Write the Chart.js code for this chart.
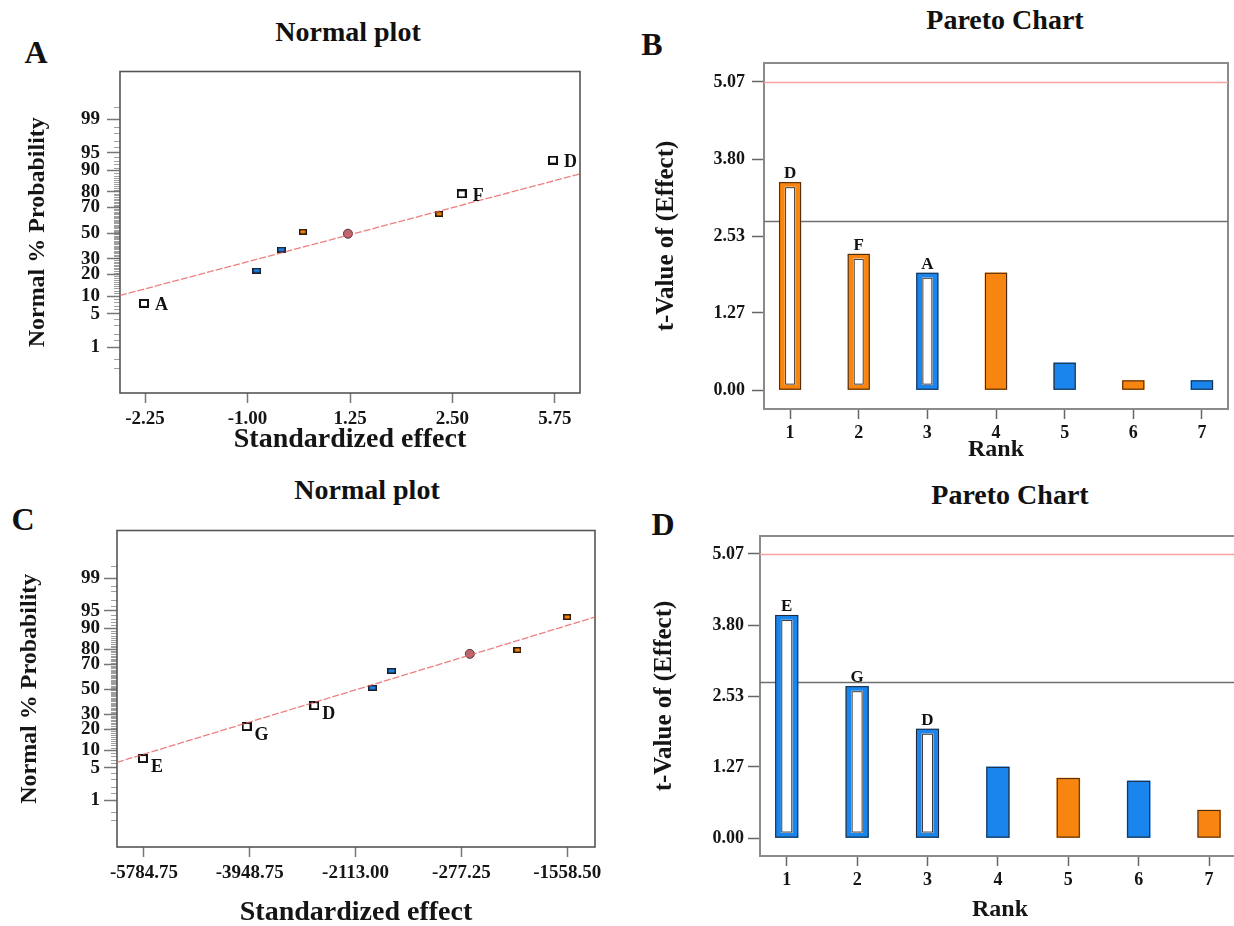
<!DOCTYPE html>
<html>
<head>
<meta charset="utf-8">
<script src="https://cdn.jsdelivr.net/npm/chart.js@4.4.0/dist/chart.umd.min.js"></script>
<style>
  body { margin: 0; background: #fff; width: 1234px; height: 926px; overflow: hidden; position: relative;
         font-family: "Liberation Serif", "DejaVu Serif", serif; }
  .lbl { position: absolute; font-weight: bold; color: #111; transform: translate(-50%, -50%);
         line-height: 1; white-space: nowrap; }
  canvas { position: absolute; }
</style>
</head>
<body>
<div class="lbl" style="left:36px;top:52px;font-size:32px">A</div>
<div class="lbl" style="left:348px;top:32px;font-size:28px">Normal plot</div>
<div class="lbl" style="left:652px;top:44px;font-size:32px">B</div>
<div class="lbl" style="left:1005px;top:20px;font-size:28px">Pareto Chart</div>
<div class="lbl" style="left:23px;top:519px;font-size:32px">C</div>
<div class="lbl" style="left:367px;top:490px;font-size:28px">Normal plot</div>
<div class="lbl" style="left:663px;top:524px;font-size:32px">D</div>
<div class="lbl" style="left:1010px;top:495px;font-size:28px">Pareto Chart</div>

<canvas id="chartA" width="576" height="391" style="left:10px;top:66px"></canvas>
<canvas id="chartB" width="581" height="405" style="left:652px;top:59px"></canvas>
<canvas id="chartC" width="594" height="405" style="left:7px;top:525px"></canvas>
<canvas id="chartD" width="597" height="392" style="left:648px;top:532px"></canvas>

<script>
// normal probability axis (percent)
const probTicks = [1, 5, 10, 20, 30, 50, 70, 80, 90, 95, 99];

// panel A - normal plot
const effTicksA = ['-2.25', '-1.00', '1.25', '2.50', '5.75'];
const effPosA = [-0.01, 1.09, 1.33, 1.54, 1.98, 2.87, 3.09, 3.98];   // in tick steps
const probA = [7.6, 22.3, 36.9, 51.2, 49.6, 65.4, 78.9, 93.2];
const kindA = ['term', 'neg', 'neg', 'pos', 'err', 'pos', 'term', 'term'];
const termA = ['A', '', '', '', '', '', 'F', 'D'];
const fitA = [10.2, 88.7];

// panel C - normal plot
const effTicksC = ['-5784.75', '-3948.75', '-2113.00', '-277.25', '-1558.50'];
const effPosC = [-0.01, 0.97, 1.61, 2.16, 2.34, 3.08, 3.53, 4.00];
const probC = [7.3, 21.7, 36.5, 51.2, 65.0, 77.1, 79.5, 93.5];
const kindC = ['term', 'term', 'term', 'neg', 'neg', 'err', 'pos', 'pos'];
const termC = ['E', 'G', 'D', '', '', '', '', ''];
const fitC = [6.25, 93.5];

// pareto charts
const ranks = [1, 2, 3, 4, 5, 6, 7];
const tTicks = [0, 1.27, 2.53, 3.80, 5.07];
const bonfLimit = 5.07;
const tLimit = 2.78;

const tValB = [3.42, 2.24, 1.93, 1.93, 0.45, 0.16, 0.16];
const signB = ['pos', 'pos', 'neg', 'pos', 'neg', 'pos', 'neg'];
const termB = ['D', 'F', 'A', '', '', '', ''];

const tValD = [3.98, 2.71, 1.95, 1.27, 1.07, 1.02, 0.50];
const signD = ['neg', 'neg', 'neg', 'neg', 'pos', 'neg', 'pos'];
const termD = ['E', 'G', 'D', '', '', '', ''];

const ORANGE = '#f8850f';
const BLUE = '#1a85ec';
const serif = '"Liberation Serif", "DejaVu Serif", serif';

Chart.defaults.font.family = serif;
Chart.defaults.font.weight = 'bold';
Chart.defaults.color = '#151515';

// inverse normal cdf (Acklam)
function probit(p) {
  const a = [-39.69683028665376, 220.9460984245205, -275.9285104469687, 138.3577518672690, -30.66479806614716, 2.506628277459239];
  const b = [-54.47609879822406, 161.5858368580409, -155.6989798598866, 66.80131188771972, -13.28068155288572];
  const c = [-0.007784894002430293, -0.3223964580411365, -2.400758277161838, -2.549732539343734, 4.374664141464968, 2.938163982698783];
  const d = [0.007784695709041462, 0.3224671290700398, 2.445134137142996, 3.754408661907416];
  const lo = 0.02425;
  if (p < lo) {
    const q = Math.sqrt(-2 * Math.log(p));
    return (((((c[0]*q+c[1])*q+c[2])*q+c[3])*q+c[4])*q+c[5]) / ((((d[0]*q+d[1])*q+d[2])*q+d[3])*q+1);
  }
  if (p > 1 - lo) {
    const q = Math.sqrt(-2 * Math.log(1 - p));
    return -(((((c[0]*q+c[1])*q+c[2])*q+c[3])*q+c[4])*q+c[5]) / ((((d[0]*q+d[1])*q+d[2])*q+d[3])*q+1);
  }
  const q = p - 0.5, r = q * q;
  return (((((a[0]*r+a[1])*r+a[2])*r+a[3])*r+a[4])*r+a[5])*q / (((((b[0]*r+b[1])*r+b[2])*r+b[3])*r+b[4])*r+1);
}

function marker(w, h, fill, line, lw) {
  const c = document.createElement('canvas');
  c.width = w; c.height = h;
  const g = c.getContext('2d');
  g.fillStyle = line; g.fillRect(0, 0, w, h);
  g.fillStyle = fill; g.fillRect(lw, lw, w - 2 * lw, h - 2 * lw);
  return c;
}
const markStyle = {
  term: marker(10, 9, '#fff', '#111', 2),
  neg: marker(9, 6, BLUE, '#1b1b2a', 1.5),
  pos: marker(8, 6, ORANGE, '#2a1a0a', 1.5),
  err: 'circle'
};

// minor ticks on the probability axis
const minorPct = [0.3, 0.5, 1.5, 98.5, 99.5];
for (let p = 2; p <= 98; p++) if (!probTicks.includes(p)) minorPct.push(p);

const frame = {
  id: 'frame',
  beforeDatasetsDraw(chart, args, o) {
    const {ctx, chartArea: a} = chart;
    ctx.save();
    ctx.strokeStyle = o.color;
    ctx.lineWidth = o.width;
    ctx.strokeRect(a.left, a.top, a.right - a.left, a.bottom - a.top);
    ctx.restore();
  }
};

const minorTicks = {
  id: 'minorTicks',
  afterDraw(chart, args, o) {
    const {ctx, chartArea: a, scales: {y}} = chart;
    ctx.save();
    ctx.strokeStyle = 'rgba(80,80,80,0.55)';
    ctx.lineWidth = 1;
    minorPct.forEach(p => {
      const py = Math.round(y.getPixelForValue(probit(p / 100))) + 0.5;
      ctx.beginPath(); ctx.moveTo(a.left - 6, py); ctx.lineTo(a.left, py); ctx.stroke();
    });
    ctx.restore();
  }
};

const pointLabels = {
  id: 'pointLabels',
  afterDatasetsDraw(chart, args, o) {
    const ctx = chart.ctx;
    const meta = chart.getDatasetMeta(1);
    ctx.save();
    ctx.font = 'bold 18px ' + serif;
    ctx.fillStyle = '#111';
    ctx.textAlign = 'left';
    ctx.textBaseline = 'middle';
    meta.data.forEach((pt, i) => {
      if (o.text[i]) ctx.fillText(o.text[i], pt.x + o.dx, pt.y + o.dy);
    });
    ctx.restore();
  }
};

const hLines = {
  id: 'hLines',
  beforeDatasetsDraw(chart, args, o) {
    const {ctx, chartArea: a, scales: {y}} = chart;
    ctx.save();
    o.lines.forEach(l => {
      const py = Math.round(y.getPixelForValue(l.value)) + 0.5;
      ctx.strokeStyle = l.color;
      ctx.lineWidth = l.width;
      ctx.beginPath(); ctx.moveTo(a.left, py); ctx.lineTo(a.right, py); ctx.stroke();
    });
    ctx.restore();
  }
};

const barDecor = {
  id: 'barDecor',
  afterDatasetsDraw(chart, args, o) {
    const ctx = chart.ctx;
    const meta = chart.getDatasetMeta(0);
    ctx.save();
    ctx.strokeStyle = 'rgba(35,25,20,0.85)';
    ctx.lineWidth = 1;
    ctx.font = 'bold 17px ' + serif;
    ctx.fillStyle = '#111';
    ctx.textAlign = 'center';
    ctx.textBaseline = 'alphabetic';
    meta.data.forEach((bar, i) => {
      const {x, y, base, width} = bar.getProps(['x', 'y', 'base', 'width'], true);
      const l = x - width / 2, t = Math.min(y, base), h = Math.abs(base - y);
      ctx.strokeRect(l + 0.5, t + 0.5, width - 1, h - 1);
      if (o.text[i]) {
        ctx.strokeRect(l + 6.5, t + 5.5, width - 13, h - 11);
        ctx.fillText(o.text[i], x, t - 4);
      }
    });
    ctx.restore();
  }
};

function normalPlot(id, g) {
  return new Chart(document.getElementById(id), {
    type: 'scatter',
    data: {
      datasets: [
        {
          type: 'line',
          data: [{x: g.xMin, y: probit(g.fit[0] / 100)}, {x: g.xMax, y: probit(g.fit[1] / 100)}],
          borderColor: 'rgba(232,96,96,0.8)', borderWidth: 1.3, borderDash: [7, 2],
          pointRadius: 0, fill: false
        },
        {
          data: g.pos.map((x, i) => ({x: x, y: probit(g.prob[i] / 100)})),
          pointStyle: g.kind.map(k => markStyle[k]),
          pointRadius: 4.5, backgroundColor: '#b9666f', borderColor: '#5a3035', borderWidth: 1
        }
      ]
    },
    options: {
      responsive: false,
      animation: false,
      events: [],
      layout: {padding: {top: 4, right: 6, left: 0, bottom: 0}},
      plugins: {
        legend: {display: false},
        tooltip: {enabled: false},
        frame: {color: '#555', width: 1.6},
        pointLabels: {text: g.terms, dx: g.dx, dy: g.dy}
      },
      scales: {
        x: {
          type: 'linear', min: g.xMin, max: g.xMax,
          afterBuildTicks: s => { s.ticks = g.ticks.map((t, i) => ({value: i})); },
          afterFit: s => { s.height = g.xh; s.paddingLeft = 0; s.paddingRight = 0; },
          ticks: {callback: (v, i) => g.ticks[i], font: {size: 19}, padding: 5, maxRotation: 0, autoSkip: false},
          grid: {drawOnChartArea: false, tickLength: 10, tickColor: '#777', tickWidth: 1.5},
          border: {display: false},
          title: {display: true, text: 'Standardized effect', font: {size: 28}, padding: 0}
        },
        y: {
          type: 'linear', min: g.yMin, max: g.yMax,
          afterBuildTicks: s => { s.ticks = probTicks.map(p => ({value: probit(p / 100)})); },
          afterFit: s => { s.width = g.yw; s.paddingTop = 0; s.paddingBottom = 0; },
          ticks: {callback: (v, i) => String(probTicks[i]), font: {size: 19}, padding: g.ypad, autoSkip: false},
          grid: {drawOnChartArea: false, tickLength: 13, tickColor: '#777', tickWidth: 1.5},
          border: {display: false},
          title: {display: true, text: 'Normal % Probability', font: {size: 24}, padding: {top: g.ytp, bottom: 0}}
        }
      }
    },
    plugins: [frame, minorTicks, pointLabels]
  });
}

function paretoPlot(id, g) {
  const col = g.sign.map(s => s === 'pos' ? ORANGE : BLUE);
  return new Chart(document.getElementById(id), {
    type: 'bar',
    data: {
      datasets: [{
        data: g.vals.map((v, i) => ({x: ranks[i], y: v})),
        backgroundColor: g.vals.map((v, i) => g.terms[i] ? '#fff' : col[i]),
        borderColor: col,
        borderWidth: c => g.terms[c.dataIndex] ? {top: 5, bottom: 5, left: 6, right: 6} : 0,
        borderSkipped: false,
        barThickness: g.bar
      }]
    },
    options: {
      responsive: false,
      animation: false,
      events: [],
      layout: {padding: {top: 4, right: g.padR, left: 0, bottom: 0}},
      plugins: {
        legend: {display: false},
        tooltip: {enabled: false},
        frame: {color: '#8a8a8a', width: 2},
        hLines: {lines: [{value: bonfLimit, color: '#f4a3a3', width: 1.5}, {value: tLimit, color: '#6f6f6f', width: 1.5}]},
        barDecor: {text: g.terms}
      },
      scales: {
        x: {
          type: 'linear', min: g.xMin, max: g.xMax, offset: false,
          afterBuildTicks: s => { s.ticks = ranks.map(r => ({value: r})); },
          afterFit: s => { s.height = g.xh; s.paddingLeft = 0; s.paddingRight = 0; },
          ticks: {callback: (v, i) => String(ranks[i]), font: {size: 18}, padding: 4, maxRotation: 0, autoSkip: false},
          grid: {drawOnChartArea: false, offset: false, tickLength: 10, tickColor: '#666', tickWidth: 1.5},
          border: {display: false},
          title: {display: true, text: 'Rank', font: {size: 24}, padding: 0}
        },
        y: {
          type: 'linear', min: g.yMin, max: g.yMax,
          afterBuildTicks: s => { s.ticks = tTicks.map(v => ({value: v})); },
          afterFit: s => { s.width = 112; s.paddingTop = 0; s.paddingBottom = 0; },
          ticks: {callback: (v, i) => tTicks[i].toFixed(2), font: {size: 18}, padding: g.ypad, autoSkip: false},
          grid: {drawOnChartArea: false, tickLength: 12, tickColor: '#666', tickWidth: 1.5},
          border: {display: false},
          title: {display: true, text: 't-Value of (Effect)', font: {size: 25}, padding: {top: g.ytp, bottom: 0}}
        }
      }
    },
    plugins: [frame, hLines, barDecor]
  });
}

normalPlot('chartA', {
  pos: effPosA, prob: probA, kind: kindA, terms: termA, fit: fitA, ticks: effTicksA,
  xMin: -0.244, xMax: 4.244, yMin: -3.26, yMax: 3.30,
  yw: 110, xh: 64, ytp: 13.6, ypad: 7, dx: 11, dy: 2
});

normalPlot('chartC', {
  pos: effPosC, prob: probC, kind: kindC, terms: termC, fit: fitC, ticks: effTicksC,
  xMin: -0.255, xMax: 4.263, yMin: -3.31, yMax: 3.33,
  yw: 110, xh: 83, ytp: 8.6, ypad: 4, dx: 8, dy: 9
});

paretoPlot('chartB', {
  vals: tValB, sign: signB, terms: termB, bar: 22,
  xMin: 0.62, xMax: 7.38, yMin: -0.31, yMax: 5.38,
  xh: 55, ytp: 0, ypad: 7, padR: 5
});

paretoPlot('chartD', {
  vals: tValD, sign: signD, terms: termD, bar: 23,
  xMin: 0.62, xMax: 7.44, yMin: -0.32, yMax: 5.39,
  xh: 68, ytp: 2, ypad: 4, padR: 5
});
</script>
</body>
</html>
